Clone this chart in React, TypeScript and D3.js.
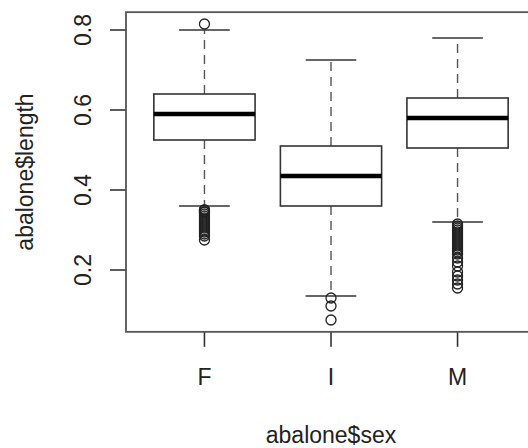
import React from "react";
import * as d3 from "d3";

// Abalone shell length by sex: five-number summaries and outliers
const categories = ["F", "I", "M"];
const q1 = [0.525, 0.36, 0.505];
const medians = [0.59, 0.435, 0.58];
const q3 = [0.64, 0.51, 0.63];
const whiskerLow = [0.36, 0.135, 0.32];
const whiskerHigh = [0.8, 0.725, 0.78];
const outliersF = [0.815, 0.35, 0.35, 0.345, 0.345, 0.34, 0.335, 0.33, 0.325, 0.32, 0.315, 0.31, 0.305, 0.3, 0.295, 0.29, 0.285, 0.275];
const outliersI = [0.13, 0.11, 0.075];
const outliersM = [0.315, 0.31, 0.305, 0.3, 0.295, 0.29, 0.285, 0.28, 0.275, 0.27, 0.265, 0.26, 0.255, 0.25, 0.245, 0.24, 0.23, 0.22, 0.21, 0.195, 0.185, 0.175, 0.165, 0.155];
const outliers = [outliersF, outliersI, outliersM];
const yTicks = [0.2, 0.4, 0.6, 0.8];
const yTickLabels = ["0.2", "0.4", "0.6", "0.8"];
const xTitle = "abalone$sex";
const yTitle = "abalone$length";

const W = 528;
const H = 448;
const FONT = "'Liberation Sans', Arial, Helvetica, sans-serif";
const FS = 23;

export default function App() {
  // R-style axis extents: 4% padding around the data range
  const all = [...whiskerLow, ...whiskerHigh, ...outliers.flat()];
  const lo = d3.min(all)!;
  const hi = d3.max(all)!;
  const pad = (hi - lo) * 0.04;
  const yDom: [number, number] = [lo - pad, hi + pad];

  const y = d3.scaleLinear().domain([0.2, 0.8]).range([270, 30]);
  const x = d3.scaleLinear().domain([0.38, 3.62]).range([126, 536]);

  const top = y(yDom[1]);
  const bottom = y(yDom[0]);
  const left = x(0.38);
  const right = x(3.62);
  const unit = x(1) - x(0);
  const boxHalf = unit * 0.4;
  const capHalf = boxHalf * 0.5;

  return (
    <svg
      width={W}
      height={H}
      style={{ position: "absolute", left: 0, top: 0, display: "block", background: "#fff" }}
      fontFamily={FONT}
    >
      {categories.map((c, i) => {
        const cx = x(i + 1);
        return (
          <g key={c}>
            {/* whiskers */}
            <line x1={cx} x2={cx} y1={y(q3[i])} y2={y(whiskerHigh[i])} stroke="#555" strokeWidth={1.4} strokeDasharray="9,6" />
            <line x1={cx} x2={cx} y1={y(q1[i])} y2={y(whiskerLow[i])} stroke="#555" strokeWidth={1.4} strokeDasharray="9,6" />
            <line x1={cx - capHalf} x2={cx + capHalf} y1={y(whiskerHigh[i])} y2={y(whiskerHigh[i])} stroke="#333" strokeWidth={1.6} />
            <line x1={cx - capHalf} x2={cx + capHalf} y1={y(whiskerLow[i])} y2={y(whiskerLow[i])} stroke="#333" strokeWidth={1.6} />
            {/* box */}
            <rect x={cx - boxHalf} y={y(q3[i])} width={boxHalf * 2} height={y(q1[i]) - y(q3[i])} fill="#fff" stroke="#333" strokeWidth={1.6} />
            <line x1={cx - boxHalf} x2={cx + boxHalf} y1={y(medians[i])} y2={y(medians[i])} stroke="#000" strokeWidth={4.5} />
            {/* outliers */}
            {outliers[i].map((v, j) => (
              <circle key={j} cx={cx} cy={y(v)} r={5} fill="none" stroke="#222" strokeWidth={1.3} />
            ))}
            {/* x tick + label */}
            <line x1={cx} x2={cx} y1={bottom} y2={bottom + 15} stroke="#333" strokeWidth={1.6} />
            <text x={cx} y={385} textAnchor="middle" fontSize={FS} fill="#222">{c}</text>
          </g>
        );
      })}

      {/* y axis ticks and labels */}
      {yTicks.map((t, i) => (
        <g key={t}>
          <line x1={left - 16} x2={left} y1={y(t)} y2={y(t)} stroke="#333" strokeWidth={1.6} />
          <text transform={`translate(91,${y(t)}) rotate(-90)`} textAnchor="middle" fontSize={FS} fill="#222">
            {yTickLabels[i]}
          </text>
        </g>
      ))}

      {/* plot frame */}
      <rect x={left} y={top} width={right - left} height={bottom - top} fill="none" stroke="#555" strokeWidth={1.8} />

      {/* axis titles */}
      <text x={(left + right) / 2} y={443} textAnchor="middle" fontSize={FS} fill="#222">{xTitle}</text>
      <text transform={`translate(33,${(top + bottom) / 2}) rotate(-90)`} textAnchor="middle" fontSize={FS} fill="#222">
        {yTitle}
      </text>
    </svg>
  );
}
